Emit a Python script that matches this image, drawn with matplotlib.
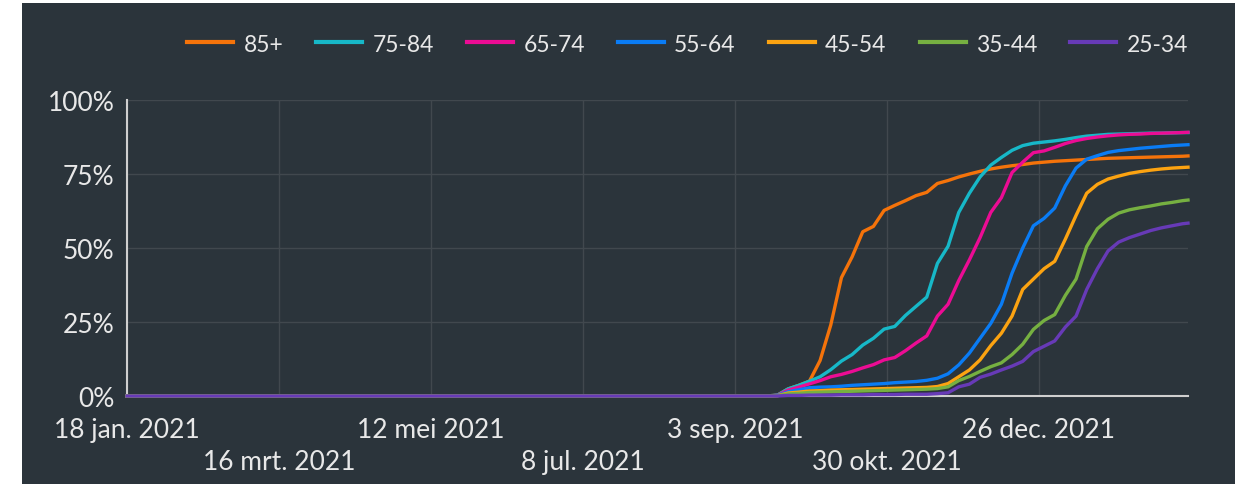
import matplotlib.pyplot as plt
from matplotlib.patches import Rectangle
import pandas as pd

# days after 18 jan. 2021
START = pd.Timestamp('2021-01-18')
days = [0, 240, 244, 248, 252, 256, 260, 264, 268, 272, 276, 280, 284, 288, 292,
        296, 300, 304, 308, 312, 316, 320, 324, 328, 332, 336, 340, 344, 348, 352,
        356, 360, 364, 368, 372, 376, 380, 384, 388, 392, 396, 398]

age_85 = [0, 0, 0.3, 2.4, 3.6, 5.0, 12, 24, 40, 47, 55.5, 57.3, 62.7, 64.4, 66, 67.7,
          68.8, 71.8, 72.8, 74, 75, 75.9, 76.7, 77.3, 77.8, 78.2, 78.7, 79, 79.3, 79.5,
          79.7, 79.9, 80.1, 80.3, 80.4, 80.5, 80.6, 80.7, 80.8, 80.9, 81, 81.1]
age_75 = [0, 0, 0.3, 2.4, 3.6, 5.0, 6.5, 8.9, 11.8, 14, 17.2, 19.5, 22.6, 23.5, 27.2,
          30.3, 33.4, 44.8, 50.6, 62, 68.5, 74, 78, 80.6, 83, 84.6, 85.4, 85.8, 86.2,
          86.7, 87.3, 87.8, 88.1, 88.4, 88.5, 88.6, 88.7, 88.8, 88.8, 88.9, 89, 89]
age_65 = [0, 0, 0.2, 2.0, 3.0, 4.1, 5.2, 6.5, 7.3, 8.3, 9.5, 10.6, 12.2, 13, 15.3, 17.9,
          20.3, 27, 31, 39, 46, 53.5, 62, 67, 75.5, 79, 82.2, 82.8, 84, 85.3, 86.3, 87,
          87.5, 87.9, 88.2, 88.4, 88.5, 88.7, 88.8, 88.9, 89, 89.1]
age_55 = [0, 0, 0.2, 1.4, 2.1, 2.8, 3.0, 3.1, 3.3, 3.6, 3.8, 4.0, 4.2, 4.5, 4.7, 4.9,
          5.3, 6.0, 7.5, 10.5, 14.5, 19.5, 24.5, 31, 41.5, 50, 57.5, 60, 63.5, 71, 77,
          80, 81.2, 82.3, 82.9, 83.3, 83.7, 84, 84.3, 84.6, 84.8, 84.9]
age_45 = [0, 0, 0.1, 1.0, 1.3, 1.7, 1.8, 2.0, 2.1, 2.2, 2.3, 2.4, 2.5, 2.6, 2.7, 2.8,
          2.9, 3.2, 4.2, 6.5, 8.8, 12.2, 17, 21.2, 27, 36, 39.5, 43, 45.5, 53, 61, 68.5,
          71.5, 73.3, 74.3, 75.2, 75.8, 76.3, 76.7, 77, 77.2, 77.3]
age_35 = [0, 0, 0.1, 0.7, 0.9, 1.2, 1.3, 1.4, 1.5, 1.6, 1.7, 1.8, 1.9, 2.0, 2.1, 2.2,
          2.3, 2.5, 3.1, 5.2, 6.6, 8.3, 9.9, 11.2, 14, 17.5, 22.5, 25.5, 27.5, 34, 39.5,
          50.5, 56.5, 59.7, 61.8, 62.9, 63.6, 64.2, 64.9, 65.4, 66, 66.2]
age_25 = [0, 0, 0.0, 0.2, 0.2, 0.3, 0.3, 0.3, 0.4, 0.4, 0.4, 0.5, 0.5, 0.5, 0.6, 0.6,
          0.6, 0.8, 1.1, 3.1, 4.0, 6.3, 7.4, 8.8, 10.1, 11.7, 15, 16.8, 18.6, 23.3, 27,
          36, 43, 49, 52, 53.5, 54.7, 55.9, 56.8, 57.5, 58.2, 58.4]

labels = ['85+', '75-84', '65-74', '55-64', '45-54', '35-44', '25-34']
colors = ['#f5730a', '#17b8c8', '#ec0c94', '#0a7cf5', '#fca311', '#76b041', '#673ab7']

tick_dates = ['2021-01-18', '2021-03-16', '2021-05-12', '2021-07-08',
              '2021-09-03', '2021-10-30', '2021-12-26']
tick_labels = ['18 jan. 2021', '16 mrt. 2021', '12 mei 2021', '8 jul. 2021',
               '3 sep. 2021', '30 okt. 2021', '26 dec. 2021']

BG = '#2b343b'
TEXT = '#e8e8e8'
GRID = '#41484e'
AXIS = '#cfcfcf'

plt.rcParams['font.family'] = ['Lato', 'DejaVu Sans']

W, H = 1243, 485
fig = plt.figure(figsize=(W / 100, H / 100), dpi=100, facecolor='white')
fig.patches.append(Rectangle((22 / W, 0), (1235 - 22) / W, 481 / H,
                             transform=fig.transFigure, facecolor=BG,
                             edgecolor='none', zorder=-10))

ax = fig.add_axes([127 / W, 88 / H, 1061 / W, 296 / H])
ax.set_facecolor(BG)

dates = START + pd.to_timedelta(days, unit='D')
series = [age_85, age_75, age_65, age_55, age_45, age_35, age_25]
for vals, lab, col in zip(series, labels, colors):
    ax.plot(dates, vals, color=col, lw=2.4, label=lab, clip_on=False,
            solid_joinstyle='round', zorder=3)

ax.set_xlim(START, START + pd.Timedelta(days=days[-1]))
ax.set_ylim(0, 100)
ax.set_yticks([0, 25, 50, 75, 100])
ax.set_yticklabels(['0%', '25%', '50%', '75%', '100%'])

ax.set_xticks(pd.to_datetime(tick_dates))
ax.set_xticklabels([t if i % 2 == 0 else '\n' + t for i, t in enumerate(tick_labels)])
for t in ax.get_xticklabels():
    t.set_linespacing(1.38)

ax.tick_params(length=0, colors=TEXT, labelsize=19)
ax.tick_params(axis='y', pad=9)
ax.tick_params(axis='x', pad=15)
ax.grid(True, color=GRID, lw=1)
ax.set_axisbelow(True)
for s in ['top', 'right']:
    ax.spines[s].set_visible(False)
for s in ['left', 'bottom']:
    ax.spines[s].set_color(AXIS)
    ax.spines[s].set_linewidth(1.5)

handles, labs = ax.get_legend_handles_labels()
leg = fig.legend(handles, labs, loc='center right', bbox_to_anchor=(1188 / W, 1 - 45 / H),
                 ncol=7, frameon=False, fontsize=16.5, handlelength=2.0,
                 handletextpad=0.45, columnspacing=1.45, labelcolor=TEXT,
                 borderpad=0, borderaxespad=0)
for l in leg.get_lines():
    l.set_linewidth(3)

fig.savefig('out.png', dpi=100, facecolor='white')
